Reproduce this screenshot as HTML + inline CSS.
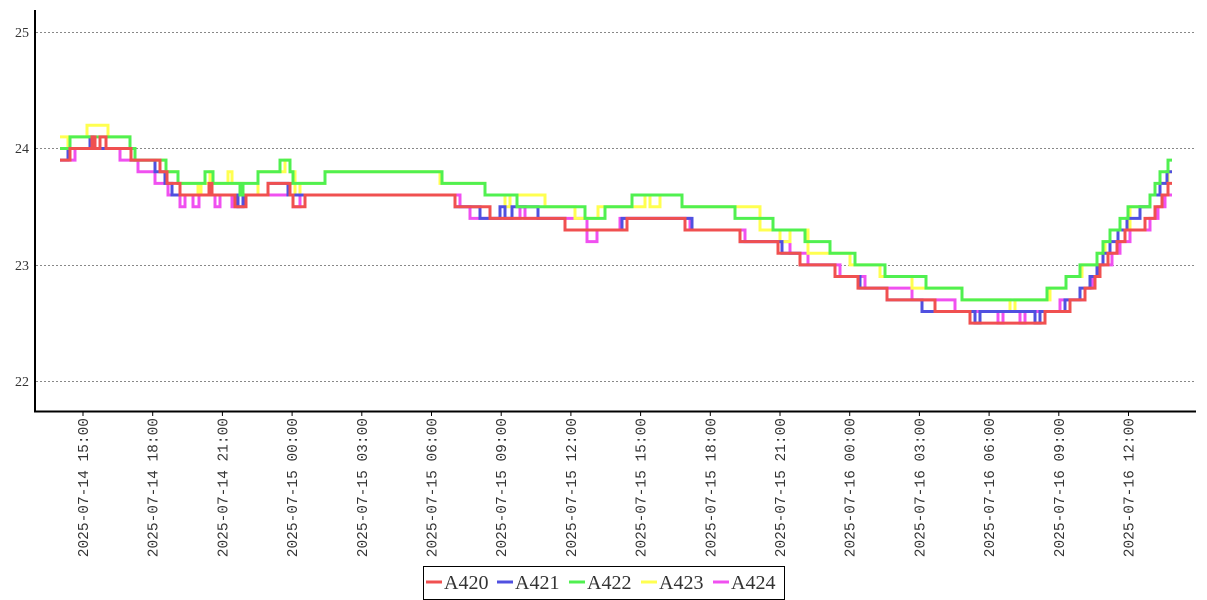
<!DOCTYPE html>
<html><head><meta charset="utf-8"><style>
html,body{margin:0;padding:0;background:#fff;}
svg{display:block;}
</style></head><body>
<svg id="c" width="1207" height="600" xmlns="http://www.w3.org/2000/svg">
<g stroke="#888" stroke-dasharray="2,2" stroke-width="1">
<line x1="36" y1="32.5" x2="1195" y2="32.5"/>
<line x1="36" y1="148.5" x2="1195" y2="148.5"/>
<line x1="36" y1="265.5" x2="1195" y2="265.5"/>
<line x1="36" y1="381.5" x2="1195" y2="381.5"/>
</g>
<g font-family="Liberation Serif, serif" font-size="14" fill="#333" text-anchor="end">
<text x="29" y="37">25</text><text x="29" y="153">24</text><text x="29" y="270">23</text><text x="29" y="386">22</text>
</g>
<g id="series" fill="none" stroke-width="3" stroke-linejoin="miter"></g>
<line x1="35" y1="10" x2="35" y2="411" stroke="#000" stroke-width="2"/>
<line x1="34" y1="411.5" x2="1196" y2="411.5" stroke="#000" stroke-width="2"/>
<g id="ticks"></g>
<rect x="423.5" y="566.5" width="361" height="33" fill="#fff" stroke="#000" stroke-width="1"/>
<g font-family="Liberation Serif, serif" font-size="20" fill="#333">
<line x1="426" y1="582" x2="442" y2="582" stroke="#f05050" stroke-width="3"/><text x="444" y="589">A420</text>
<line x1="497" y1="582" x2="513" y2="582" stroke="#5050e0" stroke-width="3"/><text x="515" y="589">A421</text>
<line x1="569" y1="582" x2="585" y2="582" stroke="#50f050" stroke-width="3"/><text x="587" y="589">A422</text>
<line x1="641" y1="582" x2="657" y2="582" stroke="#ffff50" stroke-width="3"/><text x="659" y="589">A423</text>
<line x1="713" y1="582" x2="729" y2="582" stroke="#f050f0" stroke-width="3"/><text x="731" y="589">A424</text>
</g>
</svg>
<script>
var NS="http://www.w3.org/2000/svg";
function Y(v){return 148.5+(24-v)*116.4;}
var red=[[60,23.9],[70,24.0],[92,24.1],[95,24.0],[100,24.1],[106,24.0],[131,23.9],[160,23.8],[167,23.7],[180,23.6],[209,23.7],[212,23.6],[235,23.5],[246,23.6],[268,23.7],[290,23.6],[293,23.5],[305,23.6],[455,23.5],[490,23.4],[565,23.3],[627,23.4],[685,23.3],[740,23.2],[778,23.1],[800,23.0],[835,22.9],[858,22.8],[887,22.7],[935,22.6],[970,22.5],[1045,22.6],[1070,22.7],[1085,22.8],[1095,22.9],[1100,23.0],[1108,23.1],[1117,23.2],[1125,23.3],[1145,23.4],[1155,23.5],[1162,23.6],[1168,23.7],[1172,23.7]];
var green=[[60,24.0],[70,24.1],[130,24.0],[135,23.9],[166,23.8],[178,23.7],[205,23.8],[213,23.7],[240,23.6],[243,23.7],[258,23.8],[280,23.9],[290,23.8],[293,23.7],[325,23.8],[442,23.7],[485,23.6],[517,23.5],[585,23.4],[605,23.5],[632,23.6],[682,23.5],[735,23.4],[773,23.3],[805,23.2],[830,23.1],[855,23.0],[885,22.9],[926,22.8],[962,22.7],[1047,22.8],[1066,22.9],[1080,23.0],[1097,23.1],[1103,23.2],[1110,23.3],[1120,23.4],[1128,23.5],[1150,23.6],[1155,23.7],[1160,23.8],[1168,23.9],[1172,23.9]];
var blue=[[60,23.9],[68,24.0],[90,24.1],[93,24.0],[131,23.9],[155,23.8],[165,23.7],[172,23.6],[238,23.5],[243,23.6],[268,23.7],[288,23.6],[455,23.5],[480,23.4],[500,23.5],[505,23.4],[512,23.5],[538,23.4],[565,23.3],[622,23.4],[692,23.3],[740,23.2],[782,23.1],[800,23.0],[835,22.9],[860,22.8],[887,22.7],[922,22.6],[935,22.6],[975,22.5],[980,22.6],[1035,22.5],[1040,22.6],[1065,22.7],[1080,22.8],[1090,22.9],[1097,23.0],[1103,23.1],[1110,23.2],[1118,23.3],[1127,23.4],[1140,23.5],[1150,23.6],[1160,23.7],[1167,23.8],[1172,23.8]];
var mag=[[60,23.9],[72,23.9],[75,24.0],[120,23.9],[130,23.9],[138,23.8],[155,23.7],[168,23.6],[180,23.5],[185,23.6],[193,23.5],[199,23.6],[215,23.5],[220,23.6],[232,23.5],[238,23.6],[293,23.5],[300,23.6],[460,23.5],[470,23.4],[520,23.5],[525,23.4],[587,23.2],[597,23.3],[620,23.4],[690,23.3],[745,23.2],[790,23.1],[808,23.0],[840,22.9],[850,22.9],[865,22.8],[880,22.8],[912,22.7],[955,22.6],[975,22.6],[998,22.5],[1003,22.6],[1020,22.5],[1025,22.6],[1060,22.7],[1085,22.8],[1092,22.9],[1100,23.0],[1112,23.1],[1120,23.2],[1130,23.3],[1150,23.4],[1158,23.5],[1165,23.6],[1172,23.6]];
var yel=[[60,24.1],[68,24.0],[70,24.1],[87,24.2],[108,24.1],[130,24.0],[135,23.9],[166,23.8],[178,23.7],[198,23.6],[201,23.7],[210,23.8],[213,23.7],[228,23.8],[232,23.7],[243,23.6],[258,23.8],[285,23.9],[290,23.8],[295,23.6],[300,23.7],[325,23.8],[440,23.7],[485,23.6],[505,23.5],[510,23.6],[545,23.5],[575,23.4],[598,23.5],[645,23.6],[650,23.5],[660,23.6],[682,23.5],[760,23.3],[780,23.2],[790,23.3],[808,23.1],[850,23.0],[880,22.9],[912,22.8],[962,22.7],[1010,22.6],[1015,22.7],[1050,22.8],[1066,22.9],[1082,23.0],[1097,23.1],[1105,23.2],[1110,23.3],[1130,23.5],[1150,23.6],[1160,23.7],[1168,23.8],[1172,23.8]];
function path(d,col){var s="M"+d[0][0]+" "+Y(d[0][1]);for(var i=1;i<d.length;i++){s+=" H"+d[i][0]+" V"+Y(d[i][1]);}
var p=document.createElementNS(NS,"path");p.setAttribute("d",s);p.setAttribute("stroke",col);document.getElementById("series").appendChild(p);}
path(mag,"#f050f0");path(yel,"#ffff50");path(blue,"#5050e0");path(green,"#50f050");path(red,"#f05050");
var labels=["2025-07-14 15:00","2025-07-14 18:00","2025-07-14 21:00","2025-07-15 00:00","2025-07-15 03:00","2025-07-15 06:00","2025-07-15 09:00","2025-07-15 12:00","2025-07-15 15:00","2025-07-15 18:00","2025-07-15 21:00","2025-07-16 00:00","2025-07-16 03:00","2025-07-16 06:00","2025-07-16 09:00","2025-07-16 12:00"];
var g=document.getElementById("ticks");
for(var i=0;i<labels.length;i++){var x=83+i*69.7;
var l=document.createElementNS(NS,"line");l.setAttribute("x1",x);l.setAttribute("x2",x);l.setAttribute("y1",411);l.setAttribute("y2",416);l.setAttribute("stroke","#000");g.appendChild(l);
var t=document.createElementNS(NS,"text");t.setAttribute("transform","translate("+(x+5)+",418) rotate(-90)");t.setAttribute("text-anchor","end");t.setAttribute("font-family","Liberation Mono, monospace");t.setAttribute("font-size","14.5");t.setAttribute("fill","#333");t.textContent=labels[i];g.appendChild(t);}
</script>
</body></html>
